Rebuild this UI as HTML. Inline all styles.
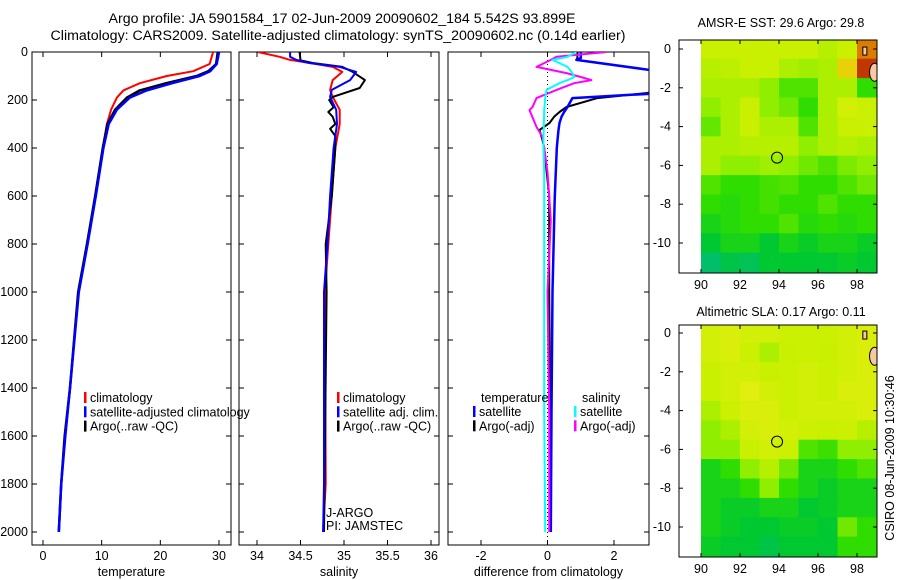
<!DOCTYPE html>
<html><head><meta charset="utf-8"><style>
html,body{margin:0;padding:0;background:#fff}
svg{display:block;font-family:"Liberation Sans",sans-serif}
</style></head><body>
<svg id="fig" width="900" height="580" viewBox="0 0 900 580">
<text x="342" y="23" font-size="14.2" text-anchor="middle">Argo profile: JA 5901584_17 02-Jun-2009 20090602_184 5.542S 93.899E</text>
<text x="338" y="40" font-size="14.2" text-anchor="middle">Climatology: CARS2009. Satellite-adjusted climatology: synTS_20090602.nc (0.14d earlier)</text>
<g id="plots"></g>
<text x="781" y="27" font-size="12.5" text-anchor="middle">AMSR-E SST: 29.6 Argo: 29.8</text>
<text x="781" y="316" font-size="12.5" text-anchor="middle">Altimetric SLA: 0.17 Argo: 0.11</text>
<text transform="translate(894,458) rotate(-90)" font-size="12.5" text-anchor="middle">CSIRO 08-Jun-2009 10:30:46</text>
</svg>
<script>
// ---- profile data (depth in m) ----
const tDepth = [0,50,80,100,130,160,190,240,300,400,600,800,1000,1400,1600,1800,2000];
const tClim  = [29,28.4,25.6,21.1,16.5,13.7,12.6,11.6,10.9,10.2,8.9,7.5,6.0,4.6,3.7,3.1,2.7];
const tSat   = [30.0,29.6,28.5,26.7,22,17.7,14.8,12.6,11.2,10.3,9.0,7.6,6.1,4.6,3.8,3.1,2.7];
const tArgo  = [29.8,29.5,28.2,26.2,21,16.5,14.3,12.3,11.0,10.2,8.9,7.5,6.0,4.6,3.7,3.1,2.7];
const sDepth = [0,20,33,46,62,83,117,158,187,241,300,400,600,800,1000,1800,2000];
const sClim  = [34.01,34.26,34.38,34.61,34.87,34.98,34.87,34.84,34.87,34.95,34.95,34.9,34.86,34.82,34.78,34.79,34.76];
const sSat   = [34.38,34.38,34.45,34.6,34.95,35.14,35.07,34.86,34.84,34.91,34.92,34.88,34.84,34.81,34.77,34.77,34.76];
const sArgoD = [0,35,46,62,83,117,150,187,200,230,250,270,300,320,350,400,600,800,1000,2000];
const sArgo  = [34.49,34.5,34.64,34.98,35.1,35.24,35.18,34.87,34.83,34.88,34.82,34.87,34.9,34.84,34.9,34.9,34.86,34.79,34.8,34.77];
const dTD    = [0,25,33,83,150,171,192,229,250,270,296,325,367,400,600,645,1000,1500,2000];
const dTSat  = [1.0,1.0,0.87,3.5,3.5,3.5,0.75,0.6,0.5,0.42,0.36,0.33,0.3,0.28,0.22,0.21,0.15,0.12,0.1];
const dTArgo = [0.9,0.9,0.87,3.5,3.5,3.0,1.5,0.57,0.36,0.2,0.06,-0.24,-0.15,-0.1,0.05,0.05,0.05,0.08,0.1];
const dSD    = [0,20,33,62,88,104,117,130,158,192,229,242,312,354,400,500,700,1000,1500,2000];
const dSSat  = [0.87,0.6,0.15,0.6,0.75,0.81,0.6,0.36,-0.03,-0.07,-0.09,-0.1,-0.11,-0.12,-0.12,-0.1,-0.1,-0.1,-0.1,-0.07];
const dSArgo = [1.77,0.27,0.1,-0.33,0.57,1.0,1.32,0.8,0.27,-0.33,-0.45,-0.54,-0.33,-0.15,-0.1,0.0,0.1,0.0,0.05,0.05];
const tTicks = [0,10,20,30];
const sTicks = [34,34.5,35,35.5,36];
const dTicks = [-2,0,2];
const zTicks = [0,200,400,600,800,1000,1200,1400,1600,1800,2000];
// ---- map data (rows lat 0..-11, cols lon 90..98, 1-degree cells) ----
const mapLons = [90,91,92,93,94,95,96,97,98];
const mapLats = [0,-1,-2,-3,-4,-5,-6,-7,-8,-9,-10,-11];
const sstGrid = [
[.55,.55,.55,.55,.55,.55,.52,.55,.85],
[.52,.53,.55,.55,.5,.48,.5,.68,.95],
[.5,.5,.5,.45,.35,.35,.5,.5,.3],
[.45,.5,.55,.45,.4,.3,.5,.58,.55],
[.38,.5,.55,.5,.5,.35,.5,.55,.55],
[.5,.5,.52,.52,.52,.45,.5,.52,.5],
[.5,.45,.45,.48,.45,.4,.35,.42,.45],
[.35,.3,.3,.33,.35,.3,.3,.35,.4],
[.3,.28,.3,.33,.3,.3,.35,.3,.3],
[.25,.28,.3,.3,.35,.28,.3,.28,.3],
[.2,.25,.25,.2,.25,.22,.25,.25,.22],
[.08,.15,.12,.2,.2,.2,.2,.22,.2]];
const slaGrid = [
[.58,.6,.58,.58,.56,.56,.56,.58,.6],
[.58,.6,.56,.5,.55,.56,.55,.58,.6],
[.55,.58,.58,.55,.56,.58,.56,.58,.6],
[.55,.58,.62,.58,.56,.58,.56,.6,.6],
[.5,.56,.6,.6,.56,.58,.58,.58,.6],
[.45,.5,.58,.6,.58,.56,.55,.56,.52],
[.45,.45,.55,.58,.56,.35,.32,.45,.45],
[.25,.3,.45,.52,.4,.25,.25,.3,.35],
[.25,.25,.3,.45,.3,.25,.22,.25,.25],
[.25,.22,.22,.25,.25,.2,.22,.25,.25],
[.25,.22,.2,.2,.22,.22,.2,.4,.3],
[.22,.2,.2,.15,.2,.2,.2,.3,.3]];
const mapXTicks = [90,92,94,96,98];
const mapYTicks = [0,-2,-4,-6,-8,-10];
const argoLon = 93.9, argoLat = -5.6;

const NS='http://www.w3.org/2000/svg';
const root=document.getElementById('plots');
function el(tag,attrs,parent){const e=document.createElementNS(NS,tag);for(const k in attrs)e.setAttribute(k,attrs[k]);(parent||root).appendChild(e);return e;}
function lin(d0,d1,r0,r1){return v=>r0+(v-d0)*(r1-r0)/(d1-d0);}

const TOP=52, BOT=545;
const yDepth = lin(0,2000,52,532);
function panel(name,x0,x1,xs,ticks,fmt,title,yLabels){
  const g=el('g',{});
  
  
  const r=el('rect',{x:x0,y:TOP,width:x1-x0,height:BOT-TOP,fill:'none',stroke:'#000','stroke-width':1},g);
  
  
  ticks.forEach(t=>{const x=xs(t);
    el('line',{x1:x,x2:x,y1:BOT,y2:BOT-5,stroke:'#000'},g);
    el('line',{x1:x,x2:x,y1:TOP,y2:TOP+5,stroke:'#000'},g);
    const tx=el('text',{x:x,y:BOT+15,'font-size':12.5,'text-anchor':'middle'},g);tx.textContent=fmt(t);
    
    
  });
  zTicks.forEach(z=>{const y=yDepth(z);
    el('line',{x1:x0,x2:x0+5,y1:y,y2:y,stroke:'#000'},g);
    el('line',{x1:x1,x2:x1-5,y1:y,y2:y,stroke:'#000'},g);
    if(yLabels){const tx=el('text',{x:x0-4,y:y+4,'font-size':12.5,'text-anchor':'end'},g);tx.textContent=z;
      
      }
  });
  const at=el('text',{x:(x0+x1)/2,y:BOT+31,'font-size':12.5,'text-anchor':'middle'},g);at.textContent=title;
  
  
  const cp=el('clipPath',{id:'cp-'+name},g);el('rect',{x:x0,y:TOP,width:x1-x0,height:BOT-TOP},cp);
  return el('g',{'clip-path':'url(#cp-'+name+')'},g);
}
function series(g,xs,vals,depths,color,name,w){
  let d='';vals.forEach((v,i)=>{d+=(i?'L':'M')+xs(v).toFixed(1)+','+yDepth(depths[i]).toFixed(1);});
  const p=el('path',{d:d,fill:'none',stroke:color,'stroke-width':w||2,'stroke-linejoin':'round'},g);
  
  
}
function legend(x,y,items,name){
  items.forEach((it,i)=>{
    el('rect',{x:x,y:y+i*14.3-10,width:2.5,height:11,fill:it[1]});
    const t=el('text',{x:x+6,y:y+i*14.3,'font-size':12.5},root);t.textContent=it[0];
    
    
  });
}
// temperature
const xT=lin(0,30,43,219);
const gT=panel('temperature-panel',32,231,xT,tTicks,String,'temperature',true);
series(gT,xT,tClim,tDepth,'#f00','temp-climatology-line');
series(gT,xT,tArgo,tDepth,'#000','temp-argo-line',2.5);
series(gT,xT,tSat,tDepth,'#00f','temp-satellite-line',2.5);
legend(84,402,[['climatology','#f00'],['satellite-adjusted climatology','#00f'],['Argo(..raw -QC)','#000']],'temp-legend');
// salinity
const xS=lin(34,36,257,431);
const gS=panel('salinity-panel',239,439,xS,sTicks,String,'salinity',false);
series(gS,xS,sClim,sDepth,'#f00','sal-climatology-line');
series(gS,xS,sArgo,sArgoD,'#000','sal-argo-line');
series(gS,xS,sSat,sDepth,'#00f','sal-satellite-line');
legend(337,402,[['climatology','#f00'],['satellite adj. clim.','#00f'],['Argo(..raw -QC)','#000']],'sal-legend');
[['J-ARGO',517],['PI: JAMSTEC',530]].forEach(a=>{const t=el('text',{x:326,y:a[1],'font-size':12.5});t.textContent=a[0];
  
  });
// difference
const xD=lin(-2,2,481,614);
const gD=panel('difference-panel',448,649,xD,dTicks,String,'difference from climatology',false);
el('line',{x1:xD(0),x2:xD(0),y1:TOP,y2:BOT,stroke:'#000','stroke-dasharray':'1,3'},gD);
series(gD,xD,dTArgo,dTD,'#000','diff-temp-argo-line');
series(gD,xD,dTSat,dTD,'#00f','diff-temp-satellite-line',2.5);
series(gD,xD,dSArgo,dSD,'#f0f','diff-sal-argo-line');
series(gD,xD,dSSat,dSD,'#0ff','diff-sal-satellite-line');
(function(){const t=el('text',{x:481,y:402,'font-size':12.5});t.textContent='temperature';
 
 const s=el('text',{x:582,y:402,'font-size':12.5});s.textContent='salinity';
 })();
legend(473,416,[['satellite','#00f'],['Argo(-adj)','#000']],'diff-temp-legend');
legend(574,416,[['satellite','#0ff'],['Argo(-adj)','#f0f']],'diff-sal-legend');

// ---- maps ----
const cmStops=[[0,[0,184,144]],[0.2,[0,200,48]],[0.3,[48,221,0]],[0.45,[144,238,0]],[0.55,[200,240,0]],[0.62,[224,238,16]],[0.75,[240,176,0]],[0.9,[208,96,0]],[1,[176,16,0]]];
function cmap(v){for(let i=1;i<cmStops.length;i++){if(v<=cmStops[i][0]){const a=cmStops[i-1],b=cmStops[i],f=(v-a[0])/(b[0]-a[0]);
  return 'rgb('+a[1].map((c,k)=>Math.round(c+(b[1][k]-c)*f)).join(',')+')';}}return 'rgb(176,16,0)';}
function drawMap(name,grid,bx0,by0,bx1,by1,lat0y,lat10y){
  const xs=lin(90,98,bx0+22,bx0+178), ys=lin(0,-10,lat0y,lat10y);
  const g=el('g',{});
  
  
  const cp=el('clipPath',{id:'cp-'+name},g);el('rect',{x:bx0,y:by0,width:bx1-bx0,height:by1-by0},cp);
  const cg=el('g',{'clip-path':'url(#cp-'+name+')'},g);
  grid.forEach((row,i)=>row.forEach((v,j)=>{
    const lat=mapLats[i],lon=mapLons[j];
    const x=xs(lon),y=ys(lat+0.5),w=xs(lon+1)-x+0.6,h=ys(lat-0.5)-y+0.6;
    const r=el('rect',{x:x,y:i===0?by0:y,width:w,height:i===0?h+(y-by0):h,fill:cmap(v)},cg);
    
    
  }));
  const land=el('ellipse',{cx:xs(98.9),cy:ys(-1.2),rx:5,ry:9,fill:'#f8c8a0',stroke:'#000'},cg);
  
  
  el('rect',{x:xs(98.3),y:ys(0.1),width:4,height:8,fill:'#f8c8a0',stroke:'#000'},cg);
  const c=el('circle',{cx:xs(argoLon),cy:ys(argoLat),r:5.5,fill:'none',stroke:'#000','stroke-width':1},g);
  
  
  el('rect',{x:bx0,y:by0,width:bx1-bx0,height:by1-by0,fill:'none',stroke:'#000'},g);
  mapXTicks.forEach(t=>{const x=xs(t);el('line',{x1:x,x2:x,y1:by1,y2:by1-4,stroke:'#000'},g);el('line',{x1:x,x2:x,y1:by0,y2:by0+4,stroke:'#000'},g);
    const tx=el('text',{x:x,y:by1+16,'font-size':12.5,'text-anchor':'middle'},g);tx.textContent=t;
    
    });
  mapYTicks.forEach(t=>{const y=ys(t);el('line',{x1:bx0,x2:bx0+4,y1:y,y2:y,stroke:'#000'},g);el('line',{x1:bx1,x2:bx1-4,y1:y,y2:y,stroke:'#000'},g);
    const tx=el('text',{x:bx0-8,y:y+4,'font-size':12.5,'text-anchor':'end'},g);tx.textContent=t;
    
    });
}
drawMap('sst-map',sstGrid,679,40,877,273,49,243);
drawMap('sla-map',slaGrid,679,325,877,557,333,527);
</script>
</body></html>
